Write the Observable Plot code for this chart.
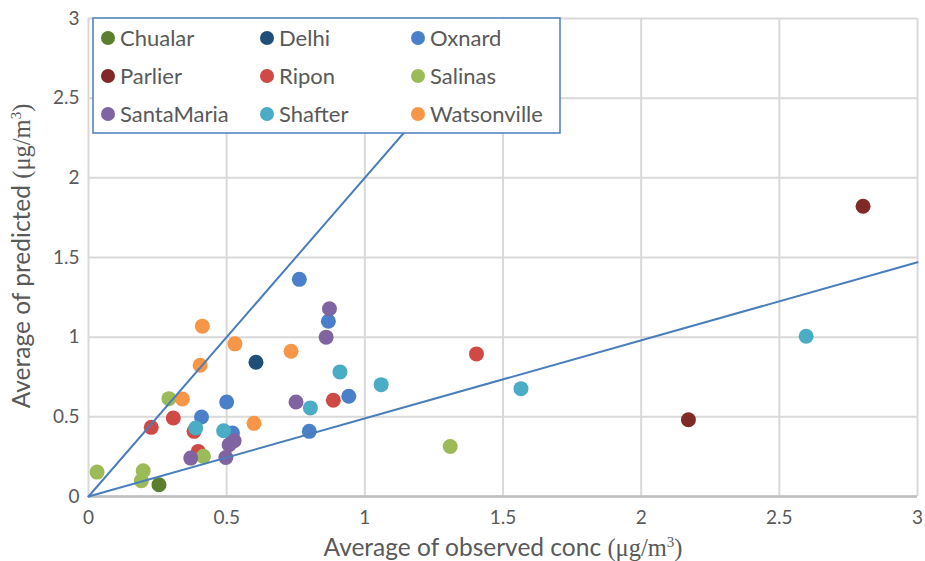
<!DOCTYPE html>
<html>
<head>
<meta charset="utf-8">
<script src="https://cdn.jsdelivr.net/npm/d3@7"></script>
<script src="https://cdn.jsdelivr.net/npm/@observablehq/plot@0.6"></script>
<style>
  html, body { margin: 0; padding: 0; background: #fff; }
  #chart svg { display: block; font-family: Lato, "Open Sans", sans-serif; }
</style>
</head>
<body>
<div id="chart"></div>
<script>
// Sites, in legend order, and their marker colours
const sites = ["Chualar", "Delhi", "Oxnard", "Parlier", "Ripon", "Salinas", "SantaMaria", "Shafter", "Watsonville"];
const siteColors = ["#5b7f2f", "#1f4e79", "#4a7fc9", "#7f2a26", "#cf4a45", "#9bbb59", "#8064a2", "#4bacc6", "#f79646"];

// Average observed vs. average predicted concentration (µg/m³) per site
const chualarObs = [0.255];
const chualarPred = [0.074];
const delhiObs = [0.606];
const delhiPred = [0.843];
const oxnardObs = [0.763, 0.868, 0.500, 0.409, 0.521, 0.942, 0.799];
const oxnardPred = [1.363, 1.100, 0.593, 0.499, 0.398, 0.629, 0.409];
const parlierObs = [2.171, 2.803];
const parlierPred = [0.482, 1.822];
const riponObs = [0.307, 0.227, 0.382, 0.397, 0.886, 1.404];
const riponPred = [0.493, 0.434, 0.409, 0.283, 0.604, 0.895];
const salinasObs = [0.291, 0.416, 0.031, 0.198, 0.191, 1.309];
const salinasPred = [0.614, 0.252, 0.153, 0.162, 0.099, 0.314];
const santaMariaObs = [0.872, 0.860, 0.751, 0.527, 0.509, 0.370, 0.497];
const santaMariaPred = [1.178, 1.000, 0.593, 0.350, 0.325, 0.241, 0.245];
const shafterObs = [0.388, 0.489, 0.910, 1.059, 0.803, 1.565, 2.597];
const shafterPred = [0.430, 0.413, 0.782, 0.702, 0.556, 0.677, 1.006];
const watsonvilleObs = [0.412, 0.530, 0.404, 0.340, 0.733, 0.599];
const watsonvillePred = [1.069, 0.958, 0.824, 0.612, 0.912, 0.459];

// Factor-of-two reference lines (end points)
const upperLineX = [0, 1.5];
const upperLineY = [0, 3];
const lowerLineX = [0, 3];
const lowerLineY = [0, 1.47];

// Axis ticks
const tickValues = [0, 0.5, 1, 1.5, 2, 2.5, 3];
const tickLabels = ["0", "0.5", "1", "1.5", "2", "2.5", "3"];

const seriesObs = [chualarObs, delhiObs, oxnardObs, parlierObs, riponObs, salinasObs, santaMariaObs, shafterObs, watsonvilleObs];
const seriesPred = [chualarPred, delhiPred, oxnardPred, parlierPred, riponPred, salinasPred, santaMariaPred, shafterPred, watsonvillePred];

const points = sites.flatMap((site, s) =>
  seriesObs[s].map((obs, i) => ({site, observed: obs, predicted: seriesPred[s][i]}))
);
const refLines = [
  ...upperLineX.map((x, i) => ({line: "upper", x, y: upperLineY[i]})),
  ...lowerLineX.map((x, i) => ({line: "lower", x, y: lowerLineY[i]}))
];

const fmt = d => tickLabels[tickValues.indexOf(d)];
const textColor = "#595959";

const chart = Plot.plot({
  width: 925,
  height: 561,
  marginLeft: 88,
  marginRight: 8,
  marginTop: 18,
  marginBottom: 65,
  style: {fontFamily: "Lato, 'Open Sans', sans-serif"},
  x: {domain: [0, 3]},
  y: {domain: [0, 3]},
  color: {domain: sites, range: siteColors},
  marks: [
    Plot.gridX(tickValues, {stroke: "#d9d9d9", strokeOpacity: 1, strokeWidth: 2}),
    Plot.gridY(tickValues, {stroke: "#d9d9d9", strokeOpacity: 1, strokeWidth: 2}),
    Plot.ruleY([0], {stroke: "#bfbfbf", strokeWidth: 2.5}),
    Plot.dot(points, {x: "observed", y: "predicted", fill: "site", r: 7.5, stroke: null}),
    Plot.line(refLines, {x: "x", y: "y", z: "line", stroke: "#4a7ebb", strokeWidth: 2}),
    Plot.axisX(tickValues, {tickFormat: fmt, tickSize: 0, tickPadding: 14, fontSize: 19, fill: textColor, label: null}),
    Plot.axisY(tickValues, {tickFormat: fmt, tickSize: 0, tickPadding: 9, fontSize: 19, fill: textColor, label: null})
  ]
});

document.getElementById("chart").appendChild(chart);

const svg = d3.select(chart);
const color = chart.scale("color");

// Axis titles with a serif unit part
function addTitle(g, main) {
  g.append("tspan").text(main);
  g.append("tspan").attr("font-family", "'Liberation Serif', serif").text("(μg/m");
  g.append("tspan").attr("font-family", "'Liberation Serif', serif").attr("font-size", 15).attr("dy", -9).text("3");
  g.append("tspan").attr("font-family", "'Liberation Serif', serif").attr("dy", 9).text(")");
}
const xt = svg.append("text")
  .attr("x", 503).attr("y", 556)
  .attr("text-anchor", "middle").attr("font-size", 24.5).attr("fill", textColor);
addTitle(xt, "Average of observed conc ");

const yt = svg.append("text")
  .attr("transform", "translate(30,256) rotate(-90)")
  .attr("text-anchor", "middle").attr("font-size", 24.5).attr("fill", textColor);
addTitle(yt, "Average of predicted ");

// Legend box
const legend = svg.append("g").attr("text-anchor", "start");
legend.append("rect")
  .attr("x", 93).attr("y", 18).attr("width", 467).attr("height", 115)
  .attr("fill", "#fff").attr("stroke", "#4a7ebb").attr("stroke-width", 1.5);
const colX = [108, 267, 418];
const rowY = [38, 76, 114];
sites.forEach((site, i) => {
  const cx = colX[i % 3], cy = rowY[Math.floor(i / 3)];
  legend.append("circle").attr("cx", cx).attr("cy", cy).attr("r", 7).attr("fill", color.apply(site));
  legend.append("text").attr("x", cx + 12).attr("y", cy).attr("dy", "0.35em")
    .attr("text-anchor", "start")
    .attr("font-size", 22).attr("fill", textColor).text(site);
});
</script>
</body>
</html>
